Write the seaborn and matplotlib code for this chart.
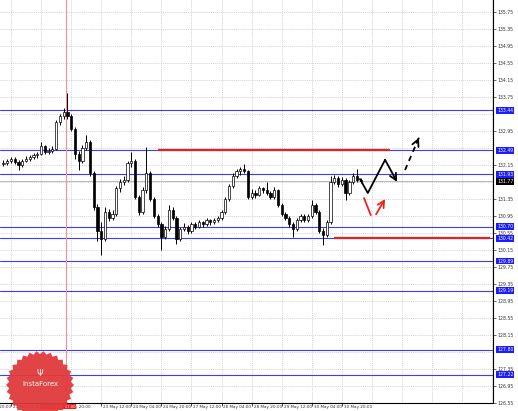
import matplotlib

matplotlib.use("Agg")

import matplotlib.pyplot as plt
import numpy as np
import pandas as pd
import seaborn as sns
from matplotlib.patches import Polygon
from matplotlib.transforms import blended_transform_factory

# EUR/JPY, 2-hour bars from 21 May 08:00 (bar 0)
opens = [132.18, 132.20, 132.24, 132.30, 132.22, 132.14, 132.25, 132.30, 132.33, 132.38,
         132.40, 132.60, 132.45, 132.48, 132.52, 133.15, 133.30, 133.40, 133.30, 133.00,
         132.40, 132.25, 132.55, 132.70, 131.96, 131.16, 130.60, 130.40, 131.05, 130.90,
         131.00, 131.60, 131.75, 131.80, 132.20, 132.25, 131.40, 131.05, 131.55, 131.95,
         131.35, 130.95, 130.75, 130.45, 130.65, 131.10, 130.90, 130.40, 130.65, 130.70,
         130.60, 130.75, 130.70, 130.80, 130.75, 130.85, 130.80, 130.85, 130.90, 131.05,
         131.35, 131.65, 131.90, 132.00, 132.05, 132.00, 131.40, 131.50, 131.45, 131.60,
         131.55, 131.50, 131.40, 131.55, 131.20, 131.00, 130.90, 130.75, 130.65, 130.85,
         130.95, 130.85, 130.95, 131.20, 131.05, 130.60, 130.50, 130.80, 131.75, 131.85,
         131.70, 131.80, 131.50, 131.75, 131.90, 131.80]
highs = [132.26, 132.28, 132.34, 132.33, 132.26, 132.29, 132.35, 132.38, 132.42, 132.46,
         132.69, 132.63, 132.55, 132.60, 133.20, 133.36, 133.50, 133.84, 133.35, 133.05,
         132.48, 132.62, 132.86, 132.74, 132.00, 131.22, 130.80, 131.15, 131.12, 131.08,
         131.65, 131.82, 131.90, 132.25, 132.46, 132.30, 131.45, 131.62, 132.58, 132.00,
         131.40, 131.00, 130.80, 130.72, 131.20, 131.16, 130.95, 130.70, 130.78, 130.74,
         130.80, 130.80, 130.86, 130.84, 130.90, 130.88, 130.90, 130.96, 131.10, 131.40,
         131.70, 131.95, 132.06, 132.10, 132.17, 132.04, 131.58, 131.56, 131.66, 131.64,
         131.75, 131.54, 131.62, 131.58, 131.25, 131.05, 130.94, 130.80, 130.90, 131.00,
         131.00, 131.00, 131.33, 131.25, 131.10, 130.66, 130.86, 131.90, 131.92, 131.90,
         131.86, 131.84, 131.80, 131.96, 132.05, 131.85]
lows = [132.12, 132.15, 132.20, 132.18, 132.04, 132.10, 132.21, 132.24, 132.28, 132.32,
        132.38, 132.40, 132.40, 132.44, 132.50, 133.08, 133.24, 133.22, 132.95, 132.30,
        132.03, 132.20, 132.50, 131.90, 131.10, 130.35, 130.03, 130.35, 130.82, 130.85,
        130.96, 131.52, 131.68, 131.75, 132.10, 131.35, 130.98, 131.00, 131.50, 131.30,
        130.90, 130.68, 130.15, 130.40, 130.60, 130.85, 130.30, 130.36, 130.60, 130.52,
        130.56, 130.64, 130.66, 130.70, 130.72, 130.74, 130.76, 130.80, 130.86, 131.00,
        131.30, 131.60, 131.84, 131.92, 131.95, 131.35, 131.36, 131.38, 131.42, 131.48,
        131.45, 131.34, 131.36, 131.15, 130.95, 130.85, 130.70, 130.45, 130.60, 130.80,
        130.80, 130.80, 130.90, 131.00, 130.55, 130.27, 130.45, 130.76, 131.70, 131.62,
        131.65, 131.33, 131.45, 131.70, 131.74, 131.72]
closes = [132.20, 132.24, 132.30, 132.22, 132.14, 132.25, 132.30, 132.33, 132.38, 132.40,
          132.60, 132.45, 132.48, 132.52, 133.15, 133.30, 133.40, 133.30, 133.00, 132.40,
          132.25, 132.55, 132.70, 131.96, 131.16, 130.60, 130.40, 131.05, 130.90, 131.00,
          131.60, 131.75, 131.80, 132.20, 132.25, 131.40, 131.05, 131.55, 131.95, 131.35,
          130.95, 130.75, 130.45, 130.65, 131.10, 130.90, 130.40, 130.65, 130.70, 130.60,
          130.75, 130.70, 130.80, 130.75, 130.85, 130.80, 130.85, 130.90, 131.05, 131.35,
          131.65, 131.90, 132.00, 132.05, 132.00, 131.40, 131.50, 131.45, 131.60, 131.55,
          131.50, 131.40, 131.55, 131.20, 131.00, 130.90, 130.75, 130.65, 130.85, 130.95,
          130.85, 130.95, 131.20, 131.05, 130.60, 130.50, 130.80, 131.75, 131.85, 131.70,
          131.80, 131.50, 131.75, 131.90, 131.80, 131.77]

price_ticks = [126.55, 126.95, 127.35, 127.75, 128.15, 128.55, 128.95, 129.35, 129.75,
               130.15, 130.55, 130.95, 131.35, 131.75, 132.15, 132.55, 132.95, 133.35,
               133.75, 134.15, 134.55, 134.95, 135.35, 135.75]
time_ticks = [-6, 2, 10, 18, 26, 34, 42, 50, 58, 66, 74, 82, 90]
time_labels = ["20 May 20:00", "21 May 12:00", "22 May 04:00", "22 May 20:00",
               "23 May 12:00", "24 May 04:00", "24 May 20:00", "27 May 12:00",
               "28 May 04:00", "28 May 20:00", "29 May 12:00", "30 May 04:00",
               "30 May 20:00"]

blue_levels = [133.44, 132.49, 131.93, 130.70, 130.42, 129.89, 129.19, 127.80, 127.22]
red_levels = [132.49, 130.42]
red_starts = [41.1, 87.9]
red_ends = [102.8, 129.4]
bid_price = 131.77
vline_bar = 16.6
vline_label = "2013.05.22 17:00"

# hand-drawn forecast arrows (bar, price)
path_bars = [94.8, 96.9, 101.5, 104.7]
path_prices = [131.82, 131.49, 132.27, 131.75]
dash_bars = [106.8, 110.5]
dash_prices = [132.03, 132.79]
red_a_bars = [95.9, 97.7]
red_a_prices = [131.37, 130.97]
red_b_bars = [99.1, 101.5]
red_b_prices = [130.99, 131.35]

sns.set_theme(style="white")
plt.rcParams["font.family"] = ["DejaVu Sans"]

fig = plt.figure(figsize=(5.18, 4.11), dpi=100, facecolor="white")
ax = fig.add_axes([0, 8 / 411, 493 / 518, 403 / 411])

# grid
for gx in np.arange(-6, 131, 8):
    ax.axvline(gx, color="#c4c4cc", lw=0.5, ls=(0, (1.5, 1.5)), zorder=0)
for gy in price_ticks:
    ax.axhline(gy, color="#c4c4cc", lw=0.5, ls=(0, (1.5, 1.5)), zorder=0)

# levels
for lvl in blue_levels:
    ax.axhline(lvl, color="#3c3cff", lw=0.8, zorder=1)
ax.axhline(bid_price, color="#bdbdbd", lw=0.8, zorder=1)
for lvl, x0, x1 in zip(red_levels, red_starts, red_ends):
    ax.hlines(lvl, x0, x1, color="#e52222", lw=1.6, zorder=2)
ax.axvline(vline_bar, color="#ff8f8f", lw=0.8, zorder=1)

# candles
bars = pd.DataFrame({"open": opens, "high": highs, "low": lows, "close": closes})
bars["x"] = bars.index
ax.vlines(bars["x"], bars["low"], bars["high"], color="black", lw=0.7, zorder=3)
up = bars[bars["close"] >= bars["open"]]
down = bars[bars["close"] < bars["open"]]
ax.bar(up["x"], up["close"] - up["open"], bottom=up["open"], width=0.6,
       color="white", edgecolor="black", linewidth=0.5, zorder=4)
ax.bar(down["x"], down["open"] - down["close"], bottom=down["close"], width=0.6,
       color="black", edgecolor="black", linewidth=0.5, zorder=4)

# forecast arrows
sns.lineplot(x=path_bars[:-1], y=path_prices[:-1], sort=False, color="black", lw=1.3, ax=ax)
ax.annotate("", xy=(path_bars[-1], path_prices[-1]), xytext=(path_bars[-2], path_prices[-2]),
            arrowprops=dict(arrowstyle="->", color="black", lw=1.3, shrinkA=0, shrinkB=0))
sns.lineplot(x=dash_bars, y=dash_prices, sort=False, color="black", lw=1.3,
             linestyle=(0, (3, 2.5)), ax=ax)
ax.annotate("", xy=(dash_bars[-1], dash_prices[-1]),
            xytext=(dash_bars[-1] - 0.6, dash_prices[-1] - 0.12),
            arrowprops=dict(arrowstyle="->", color="black", lw=1.3, shrinkA=0, shrinkB=0))
sns.lineplot(x=red_a_bars, y=red_a_prices, sort=False, color="#ee2222", lw=1.3, ax=ax)
ax.annotate("", xy=(red_b_bars[-1], red_b_prices[-1]), xytext=(red_b_bars[0], red_b_prices[0]),
            arrowprops=dict(arrowstyle="->", color="#ee2222", lw=1.3, shrinkA=0, shrinkB=0))

# axes styling
for side in ["top", "left"]:
    ax.spines[side].set_visible(False)
for side in ["right", "bottom"]:
    ax.spines[side].set_color("black")
    ax.spines[side].set_linewidth(0.8)
boxed = blue_levels + [bid_price]
shown = [p for p in price_ticks if min(abs(p - b) for b in boxed) > 0.1]
ax.yaxis.tick_right()
ax.set_yticks(shown)
ax.set_yticklabels([f"{p:.2f}" for p in shown])
ax.tick_params(axis="y", labelsize=3.3, length=2, width=0.5, pad=1.5,
               colors="#333333", right=True, left=False)
ax.set_xticks(time_ticks)
ax.set_xticklabels([])
ax.tick_params(axis="x", length=2, width=0.5, bottom=True, colors="black")
ax.set_xlim(-0.93, 130.2)
ax.set_ylim(126.55, 136.03)

xt = blended_transform_factory(ax.transData, ax.transAxes)
for tx, lab in zip(time_ticks, time_labels):
    if abs(tx - vline_bar) < 8:
        continue  # hidden under the vertical line's time box
    ax.text(tx + 0.5, -0.004, lab, transform=xt, ha="left", va="top",
            fontsize=3.0, color="#333333", clip_on=False)
ax.text(18.9, -0.004, time_labels[3][-7:], transform=xt, ha="left", va="top",
        fontsize=3.0, color="#333333", clip_on=False)
ax.text(14.6, -0.004, vline_label, transform=xt, ha="center", va="top", fontsize=2.7,
        color="white", clip_on=False, zorder=10,
        bbox=dict(boxstyle="square,pad=0.2", fc="#ff1a1a", ec="none"))

yt = blended_transform_factory(ax.transAxes, ax.transData)
for lvl in blue_levels:
    ax.text(1.008, lvl, f"{lvl:.2f}", transform=yt, ha="left", va="center", fontsize=3.3,
            color="white", clip_on=False, zorder=10,
            bbox=dict(boxstyle="square,pad=0.2", fc="#1c1cff", ec="none"))
ax.text(1.008, bid_price, f"{bid_price:.2f}", transform=yt, ha="left", va="center",
        fontsize=3.3, color="white", clip_on=False, zorder=10,
        bbox=dict(boxstyle="square,pad=0.2", fc="black", ec="none"))

# watermark logo
ov = fig.add_axes([0, 0, 1, 1])
ov.set_xlim(0, 518)
ov.set_ylim(411, 0)
ov.axis("off")
ang = np.linspace(0, 2 * np.pi, 61)[:-1]
rad = np.where(np.arange(60) % 2 == 0, 34, 31)
gear = Polygon(np.column_stack([40 + rad * np.cos(ang), 385 + rad * np.sin(ang)]),
               closed=True, fc="#e03a3a", ec="none", alpha=0.95)
ov.add_patch(gear)
ov.text(40, 373, "Ψ", ha="center", va="center", fontsize=6, color="white")
ov.text(40, 384, "InstaForex", ha="center", va="center", fontsize=5, color="white")

fig.savefig("out.png", dpi=100)
